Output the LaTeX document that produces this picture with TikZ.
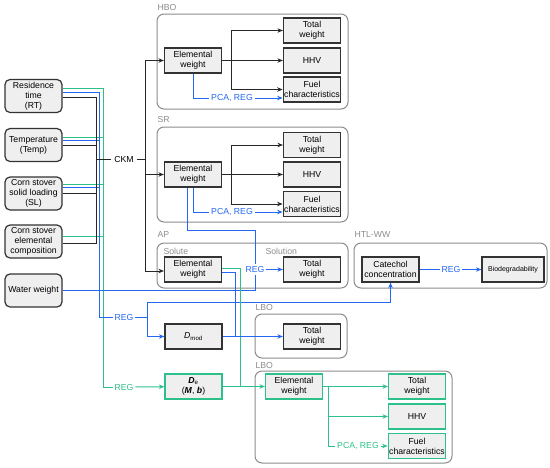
\documentclass[tikz,border=0pt]{standalone}
\usepackage{fontspec}
\setmainfont{Liberation Sans}
\usetikzlibrary{arrows.meta, calc}
\definecolor{regblue}{HTML}{2468F2}
\definecolor{regteal}{HTML}{2EC08A}
\definecolor{boxgray}{HTML}{EFEFEF}
\definecolor{grpgray}{HTML}{8C8C8C}

\begin{document}
\begin{tikzpicture}[x=1pt, y=-1pt, >={Stealth[length=5.5pt,width=4.5pt]},
    font=\fontsize{8.7}{10}\selectfont, line width=1pt,
    inbox/.style={draw=black!80, fill=boxgray, rounded corners=5pt, minimum width=57pt, minimum height=33pt, align=center, inner sep=1pt, line width=1.2pt},
    box/.style={draw=black!80, fill=boxgray, minimum width=57pt, minimum height=25pt, align=center, inner sep=1pt, line width=1.2pt},
    gbox/.style={box, draw=regteal},
    grp/.style={draw=grpgray, rounded corners=7pt},
    grplbl/.style={text=grpgray, anchor=west, inner sep=0pt},
    blbl/.style={text=regblue, inner sep=1.5pt},
    glbl/.style={text=regteal, inner sep=1.5pt},
    kline/.style={draw=black!85},
    bline/.style={draw=regblue},
    gline/.style={draw=regteal}]
    \useasboundingbox (0,0) rectangle (550,467);

    % Group frames
    \draw[grp] (157,14) rectangle (348,109);
    \node[grplbl] (hbo-lbl) at (157,7) {HBO};
    \draw[grp] (157,127) rectangle (348,222);
    \node[grplbl] (sr-lbl) at (157,119) {SR};
    \draw[grp] (157,243) rectangle (348,288);
    \node[grplbl] (ap-lbl) at (157,235) {AP};
    \node[grplbl] (solute-lbl) at (163,251) {Solute};
    \node[grplbl] (solution-lbl) at (265,251) {Solution};
    \draw[grp] (354,243) rectangle (547,288);
    \node[grplbl] (htl-lbl) at (354,235) {HTL-WW};
    \draw[grp] (255,314) rectangle (347,358);
    \node[grplbl] (lbo1-lbl) at (255,307) {LBO};
    \draw[grp] (255,371) rectangle (452,463);
    \node[grplbl] (lbo2-lbl) at (255,365) {LBO};

    % Inputs
    \node[inbox] (rt) at (33.5,96) {Residence\\time\\(RT)};
    \node[inbox] (temp) at (33.5,145) {Temperature\\(Temp)};
    \node[inbox] (sl) at (33.5,193.5) {Corn stover\\solid loading\\(SL)};
    \node[inbox] (comp) at (33.5,241.5) {Corn stover\\elemental\\composition};
    \node[inbox] (water) at (33.5,290.5) {Water weight};

    % HBO
    \node[box] (hbo-ew) at (193,60.5) {Elemental\\weight};
    \node[box] (hbo-tw) at (312,30.5) {Total\\weight};
    \node[box] (hbo-hhv) at (312,60.5) {HHV};
    \node[box] (hbo-fc) at (312,89.5) {Fuel\\characteristics};
    \node[blbl] (hbo-reg) at (232,98) {PCA, REG};

    % SR
    \node[box] (sr-ew) at (193,174.5) {Elemental\\weight};
    \node[box] (sr-tw) at (312,145) {Total\\weight};
    \node[box] (sr-hhv) at (312,174.5) {HHV};
    \node[box] (sr-fc) at (312,204) {Fuel\\characteristics};
    \node[blbl] (sr-reg) at (232,212) {PCA, REG};

    % AP and HTL-WW
    \node[box] (ap-ew) at (193,269.5) {Elemental\\weight};
    \node[box] (ap-tw) at (312,269.5) {Total\\weight};
    \node[blbl] (ap-reg) at (255,269.5) {REG};
    \node[box] (cat) at (390.5,269.5) {Catechol\\concentration};
    \node[box, minimum width=62pt, font=\fontsize{7}{8}\selectfont] (bio) at (513,269.5) {Biodegradability};
    \node[blbl] (htl-reg) at (451,269.5) {REG};

    % Models
    \node[blbl] (regb) at (124,317) {REG};
    \node[glbl] (regg) at (124,387) {REG};
    \node[box] (dmod) at (193.5,336.5) {\textit{D}\textsubscript{mod}};
    \node[gbox] (de) at (193.5,386.5) {\textbf{\textit{D}}\textsubscript{e}\\(\textbf{\textit{M}}, \textbf{\textit{b}})};

    % LBO
    \node[box] (lbo1-tw) at (312,336.5) {Total\\weight};
    \node[gbox] (lbo2-ew) at (294,386.5) {Elemental\\weight};
    \node[gbox] (lbo2-tw) at (417,386.5) {Total\\weight};
    \node[gbox] (lbo2-hhv) at (417,416.5) {HHV};
    \node[gbox] (lbo2-fc) at (417,446) {Fuel\\characteristics};
    \node[glbl] (lbo2-reg) at (358,446) {PCA, REG};

    % Bus points
    \coordinate (kbus) at (96,159);
    \coordinate (bbus) at (99,317);
    \coordinate (gbus) at (103,387);
    \node (ckm) at (124,159) {CKM};
    \coordinate (ksplit) at (145,159);
    \coordinate (bsplit) at (147,317);
    \coordinate (srbend) at (255,230);
    \coordinate (bjoin) at (235,336.5);
    \coordinate (gjoin) at (240,386.5);
    \coordinate (hbo-split) at (231,60.5);
    \coordinate (sr-split) at (231,174.5);
    \coordinate (lbo2-split) at (328,386.5);

    % Green lines from inputs
    \draw[gline] ([yshift=8pt]rt.east) -| (gbus) -- (regg);
    \draw[gline] ([yshift=8pt]temp.east) -- ([yshift=8pt]temp.east -| gbus);
    \draw[gline] ([yshift=9pt]sl.east) -- ([yshift=9pt]sl.east -| gbus);
    \draw[gline] ([yshift=5pt]comp.east) -- ([yshift=5pt]comp.east -| gbus);
    \draw[gline, ->] (regg) -- (de);

    % Blue lines from inputs
    \draw[bline] ([yshift=3.5pt]rt.east) -| (bbus) -- (regb);
    \draw[bline] ([yshift=5pt]temp.east) -- ([yshift=5pt]temp.east -| bbus);
    \draw[bline] ([yshift=6pt]sl.east) -- ([yshift=6pt]sl.east -| bbus);
    \draw[bline] (regb) -- (bsplit);
    \draw[bline, ->] (bsplit) |- (dmod);
    \draw[bline, ->] (bsplit) |- ($(cat.south)+(0,20)$) -- (cat.south);

    % Black lines from inputs
    \draw[kline] ([yshift=-1pt]rt.east) -| (kbus);
    \draw[kline] (temp.east) -- (temp.east -| kbus);
    \draw[kline] (sl.east) -- (sl.east -| kbus);
    \draw[kline] ([yshift=-1.5pt]comp.east) -| (kbus);
    \draw[kline] (kbus) -- (ckm) -- (ksplit);
    \draw[kline, ->] (ksplit) |- (hbo-ew);
    \draw[kline, ->] (ksplit) |- (sr-ew);
    \draw[kline, ->] (ksplit) |- ([yshift=-1.5pt]ap-ew.west);

    % HBO connectors
    \draw[kline, ->] (hbo-ew) -- (hbo-hhv);
    \draw[kline, ->] (hbo-split) |- (hbo-tw);
    \draw[kline, ->] (hbo-split) |- (hbo-fc.west);
    \draw[bline] (hbo-ew.south) |- (hbo-reg);
    \draw[bline, ->] (hbo-reg) -- (hbo-reg -| hbo-fc.west);

    % SR connectors
    \draw[kline, ->] (sr-ew) -- (sr-hhv);
    \draw[kline, ->] (sr-split) |- (sr-tw);
    \draw[kline, ->] (sr-split) |- (sr-fc.west);
    \draw[bline] (sr-ew.south) |- (sr-reg);
    \draw[bline, ->] (sr-reg) -- (sr-reg -| sr-fc.west);
    \draw[bline] ([xshift=-6pt]sr-ew.south) |- (srbend) -- (ap-reg);

    % AP, water and HTL-WW connectors
    \draw[bline] (water.east) -| (ap-reg);
    \draw[bline, ->] (ap-reg) -- (ap-tw);
    \draw[bline] (cat) -- (htl-reg);
    \draw[bline, ->] (htl-reg) -- (bio);
    \draw[gline] ([yshift=1.5pt]ap-ew.east) -| (gjoin);
    \draw[bline] ([yshift=-2.5pt]ap-ew.east) -| (bjoin);

    % Model outputs
    \draw[bline, ->] (dmod) -- (lbo1-tw);
    \draw[gline, ->] (de) -- (lbo2-ew);

    % LBO connectors
    \draw[gline, ->] (lbo2-ew) -- (lbo2-tw);
    \draw[gline, ->] (lbo2-split) |- (lbo2-hhv);
    \draw[gline] (lbo2-split) |- (lbo2-reg);
    \draw[gline, ->] (lbo2-reg) -- (lbo2-fc);
\end{tikzpicture}
\end{document}
